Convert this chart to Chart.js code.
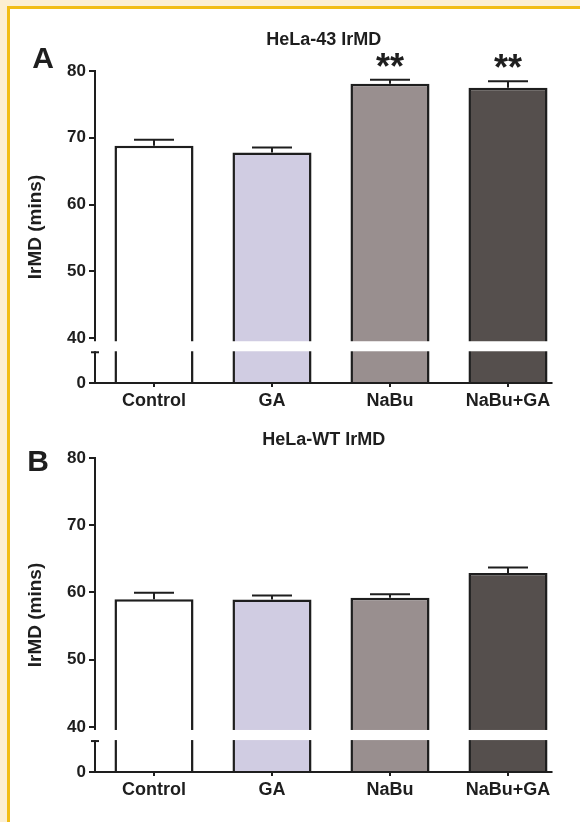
<!DOCTYPE html>
<html>
<head>
<meta charset="utf-8">
<script src="https://cdn.jsdelivr.net/npm/chart.js@4.4.1/dist/chart.umd.min.js"></script>
<style>
html, body { margin: 0; padding: 0; }
body { width: 580px; height: 822px; background: #fcefd3; position: relative; overflow: hidden; }
#frame { position: absolute; left: 7px; top: 6px; right: 0; bottom: 0; background: #fff;
  border-top: 3px solid #f2bd16; border-left: 3px solid #f2bd16; }
.panel { position: absolute; left: 0; width: 580px; }
#panelA { top: 0; height: 420px; }
#panelB { top: 420px; height: 389px; }
</style>
</head>
<body>
<div id="frame"></div>
<div class="panel" id="panelA"><canvas id="chartA"></canvas></div>
<div class="panel" id="panelB"><canvas id="chartB"></canvas></div>
<script>
// data
const categories = ['Control', 'GA', 'NaBu', 'NaBu+GA'];
const hela43Means = [68.8, 67.8, 78.1, 77.5];
const hela43Sem = [0.9, 0.75, 0.6, 0.95];
const hela43Stars = ['', '', '**', '**'];
const helaWtMeans = [59.0, 58.95, 59.2, 62.9];
const helaWtSem = [0.95, 0.6, 0.55, 0.8];
const yTickValues = [40, 50, 60, 70, 80];
const barColors = ['#ffffff', '#d0cce2', '#998f8f', '#554f4d'];

// broken axis: the floor of the scale stands for 0, the white gap sits just under 40
const axisFloor = 33.3, breakHigh = 39.55, breakLow = 38.05;
const ink = '#1e1e1e';
const fontFamily = '"Liberation Sans", Arial, sans-serif';

Chart.defaults.font.family = fontFamily;

const extras = {
  id: 'extras',
  afterDatasetsDraw(chart, args, opts) {
    const { ctx, chartArea: ca, scales: { y } } = chart;
    const meta = chart.getDatasetMeta(0);
    const vals = chart.data.datasets[0].data;
    ctx.save();
    ctx.strokeStyle = ink;
    ctx.fillStyle = ink;
    ctx.lineWidth = 2;

    // error bars (upper half only) and significance stars
    meta.data.forEach((bar, i) => {
      const top = y.getPixelForValue(vals[i] + opts.sem[i]);
      ctx.beginPath();
      ctx.moveTo(bar.x, bar.y);
      ctx.lineTo(bar.x, top);
      ctx.moveTo(bar.x - 20, top);
      ctx.lineTo(bar.x + 20, top);
      ctx.stroke();
      if (opts.stars[i]) {
        ctx.font = 'bold 36px ' + fontFamily;
        ctx.textAlign = 'center';
        ctx.textBaseline = 'middle';
        ctx.fillText(opts.stars[i], bar.x, top - 11);
      }
    });

    // x axis line, stopping a little past the last bar
    const last = meta.data[meta.data.length - 1];
    const axisEnd = last.x + last.width / 2 + 5;
    ctx.beginPath();
    ctx.moveTo(ca.left - 1, ca.bottom);
    ctx.lineTo(axisEnd, ca.bottom);
    ctx.stroke();

    // axis break
    const gTop = y.getPixelForValue(breakHigh), gBot = y.getPixelForValue(breakLow);
    ctx.fillStyle = '#fff';
    ctx.fillRect(ca.left - 3, gTop, ca.right - ca.left + 3, gBot - gTop);
    ctx.beginPath();
    ctx.moveTo(ca.left - 4, gBot + 1);
    ctx.lineTo(ca.left + 4, gBot + 1);
    ctx.stroke();

    // panel title and letter
    ctx.fillStyle = ink;
    ctx.textAlign = 'center';
    ctx.textBaseline = 'middle';
    ctx.font = 'bold 18px ' + fontFamily;
    ctx.fillText(opts.title, (ca.left + axisEnd) / 2, opts.titleY);
    ctx.font = 'bold 30px ' + fontFamily;
    ctx.fillText(opts.letter, opts.letterX, opts.letterY);
    ctx.restore();
  }
};

function makePanel(id, means, sem, stars, padTop, info) {
  return new Chart(id, {
    type: 'bar',
    data: {
      labels: categories,
      datasets: [{
        data: means,
        backgroundColor: barColors,
        borderColor: ink,
        borderWidth: 2.5,
        borderSkipped: 'bottom',
        barPercentage: 0.67,
        categoryPercentage: 1
      }]
    },
    options: {
      responsive: true,
      maintainAspectRatio: false,
      animation: false,
      layout: { padding: { top: padTop, right: 13, bottom: 0, left: 0 } },
      scales: {
        x: {
          afterFit: s => { s.height = 37; },
          border: { display: false },
          grid: { drawOnChartArea: false, offset: false, color: ink, lineWidth: 2, tickLength: 4 },
          ticks: { color: ink, font: { size: 18, weight: 'bold' }, padding: 3 }
        },
        y: {
          min: axisFloor,
          max: 80,
          afterBuildTicks: s => { s.ticks = [axisFloor, ...yTickValues].map(v => ({ value: v })); },
          afterFit: s => { s.width = 95; },
          border: { display: true, color: ink, width: 2 },
          grid: { drawOnChartArea: false, color: ink, lineWidth: 2, tickLength: 6 },
          ticks: {
            color: ink, font: { size: 17, weight: 'bold' }, padding: 3,
            callback: v => (v === axisFloor ? '0' : v)
          },
          title: {
            display: true, text: 'IrMD (mins)', color: ink,
            font: { size: 19, weight: 'bold' }, padding: { top: 24, bottom: 0 }
          }
        }
      },
      plugins: {
        legend: { display: false },
        tooltip: { enabled: false },
        extras: Object.assign({ sem: sem, stars: stars }, info)
      }
    },
    plugins: [extras]
  });
}

makePanel('chartA', hela43Means, hela43Sem, hela43Stars, 71,
  { title: 'HeLa-43 IrMD', titleY: 40, letter: 'A', letterX: 43, letterY: 60 });
makePanel('chartB', helaWtMeans, helaWtSem, ['', '', '', ''], 38,
  { title: 'HeLa-WT IrMD', titleY: 20, letter: 'B', letterX: 38, letterY: 43 });
</script>
</body>
</html>
